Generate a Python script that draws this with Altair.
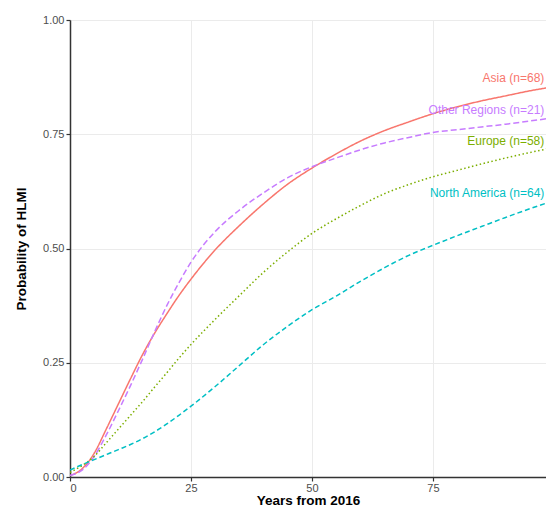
import altair as alt
import pandas as pd

years = [0, 2.5, 5, 7.5, 10, 12.5, 15, 17.5, 20, 22.5, 25, 30, 35, 40, 45, 50,
         55, 60, 65, 70, 75, 80, 85, 90, 95, 100]

asia = [0.003, 0.018, 0.052, 0.105, 0.16, 0.215, 0.268, 0.315, 0.357, 0.397, 0.433,
        0.497, 0.55, 0.598, 0.641, 0.676, 0.707, 0.735, 0.758, 0.777, 0.795, 0.81,
        0.823, 0.834, 0.845, 0.854]
other = [0.003, 0.015, 0.045, 0.092, 0.145, 0.2, 0.258, 0.318, 0.375, 0.425, 0.47,
         0.537, 0.584, 0.622, 0.655, 0.679, 0.698, 0.716, 0.731, 0.743, 0.754, 0.76,
         0.766, 0.772, 0.779, 0.786]
europe = [0.01, 0.025, 0.045, 0.075, 0.105, 0.135, 0.165, 0.197, 0.228, 0.26, 0.29,
          0.345, 0.397, 0.448, 0.493, 0.533, 0.565, 0.594, 0.62, 0.64, 0.657, 0.671,
          0.685, 0.698, 0.71, 0.721]
north_america = [0.015, 0.027, 0.038, 0.049, 0.06, 0.071, 0.084, 0.099, 0.116, 0.135,
                 0.155, 0.198, 0.244, 0.29, 0.33, 0.366, 0.396, 0.428, 0.458, 0.485,
                 0.507, 0.528, 0.548, 0.568, 0.587, 0.605]

regions = ["Asia", "Other Regions", "Europe", "North America"]
region_labels = ["Asia (n=68)", "Other Regions (n=21)", "Europe (n=58)", "North America (n=64)"]
label_x = [98.0, 98.0, 98.0, 98.0]
label_y = [0.874, 0.802, 0.735, 0.622]
colors = ["#F8766D", "#C77CFF", "#7CAE00", "#00BFC4"]
dashes = [[1, 0], [6, 3], [1.5, 2.5], [5, 3]]
x_ticks = [0, 25, 50, 75]
y_ticks = [0, 0.25, 0.5, 0.75, 1.0]

series = {"Asia": asia, "Other Regions": other, "Europe": europe,
          "North America": north_america}
rows = []
for r in regions:
    for t, v in zip(years, series[r]):
        rows.append({"year": t, "prob": v, "region": r})
df = pd.DataFrame(rows)
lab = pd.DataFrame({"region": regions, "label": region_labels, "x": label_x, "y": label_y})

color_scale = alt.Scale(domain=regions, range=colors)
dash_scale = alt.Scale(domain=regions, range=dashes)

# the view is cropped on the right, just short of 100 years
x_scale = alt.Scale(domain=[0, 98.35], nice=False)
y_scale = alt.Scale(domain=[0, 1], nice=False)

x_enc = alt.X("year:Q", title="Years from 2016", scale=x_scale,
              axis=alt.Axis(values=x_ticks, format="d"))
y_enc = alt.Y("prob:Q", title="Probability of HLMI", scale=y_scale,
              axis=alt.Axis(values=y_ticks, format=".2f"))

lines = alt.Chart(df).mark_line(strokeWidth=1.5, interpolate="monotone", clip=True).encode(
    x=x_enc,
    y=y_enc,
    color=alt.Color("region:N", scale=color_scale, legend=None),
    strokeDash=alt.StrokeDash("region:N", scale=dash_scale, legend=None),
    detail="region:N",
)

texts = alt.Chart(lab).mark_text(align="right", baseline="middle", fontSize=12,
                                 font="Liberation Sans").encode(
    x=alt.X("x:Q", scale=x_scale),
    y=alt.Y("y:Q", scale=y_scale),
    text="label:N",
    color=alt.Color("region:N", scale=color_scale, legend=None),
)

chart = (lines + texts).properties(
    width=476, height=457,
    autosize=alt.AutoSizeParams(type="none"),
    padding={"left": 62, "top": 12, "right": 0, "bottom": 30},
).configure_view(stroke=None).configure_axis(
    labelFont="Liberation Sans", titleFont="Liberation Sans",
    labelFontSize=11, labelColor="#4d4d4d",
    titleFontSize=13.5, titleFontWeight="bold", titleColor="#000000",
    gridColor="#ebebeb", gridWidth=1,
    domainColor="#333333", domainWidth=1.5,
    tickColor="#333333", tickSize=4, tickWidth=1.2,
    labelPadding=2,
).configure_axisX(titlePadding=0, labelPadding=1).configure_axisY(titlePadding=14)

chart.save("out.html", embed_options={"renderer": "svg", "actions": False})
